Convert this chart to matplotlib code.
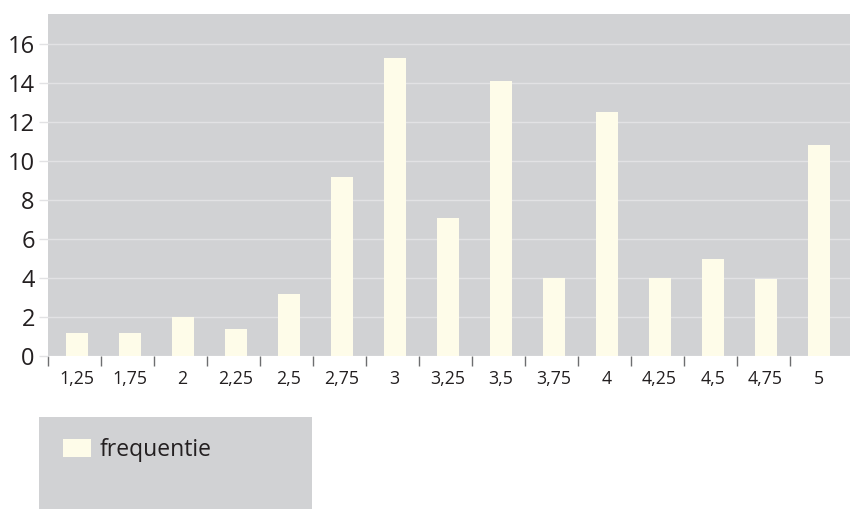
import matplotlib
matplotlib.use("Agg")
import matplotlib.pyplot as plt
from matplotlib.patches import Rectangle
import numpy as np

categories = ["1,25", "1,75", "2", "2,25", "2,5", "2,75", "3", "3,25",
              "3,5", "3,75", "4", "4,25", "4,5", "4,75", "5"]
frequentie = [1.2, 1.2, 2.0, 1.4, 3.2, 9.2, 15.3, 7.1, 14.1, 4.0, 12.5, 4.0, 5.0, 3.95, 10.8]
y_ticks = [0, 2, 4, 6, 8, 10, 12, 14, 16]
series_name = "frequentie"

BG = "#d1d2d4"
BAR = "#fefce9"
GRID = "#e2e2e4"
TEXT = "#231f20"
TICK = "#6d6e70"

plt.rcParams['font.family'] = ['Open Sans', 'DejaVu Sans']

W, H = 850, 509
fig = plt.figure(figsize=(W / 100, H / 100), dpi=100)
left_px, right_px, top_px, bottom_px = 48, 850, 14, 356
ax = fig.add_axes([left_px / W, 1 - bottom_px / H, (right_px - left_px) / W, (bottom_px - top_px) / H])
ax.set_facecolor(BG)

x = np.arange(len(categories))
xc = x + 0.04
bars = ax.bar(xc, frequentie, width=0.415, color=BAR, zorder=3, label=series_name)

ax.set_ylim(0, 17.54)
ax.set_xlim(-0.5, (right_px - left_px) / 53.0 - 0.5)

ax.set_yticks(y_ticks)
ax.set_yticklabels([str(v) for v in y_ticks])
ax.yaxis.grid(True, color=GRID, linewidth=1.0, zorder=1)
ax.tick_params(axis='y', length=6.5, width=1.0, color=GRID, pad=3, labelsize=17, labelcolor=TEXT)

# category boundaries as major ticks, labels at category centres as minor ticks
ax.set_xticks(x - 0.5)
ax.set_xticklabels([])
ax.set_xticks(xc, minor=True)
ax.set_xticklabels(categories, minor=True)
ax.tick_params(axis='x', which='major', length=7.5, width=1.0, color=TICK, direction='out')
ax.tick_params(axis='x', which='minor', length=0, pad=10, labelsize=12.8, labelcolor=TEXT)

for s in ax.spines.values():
    s.set_visible(False)

# legend box
fig.patches.append(Rectangle((39 / W, 0), (312 - 39) / W, (509 - 417) / H,
                             transform=fig.transFigure, facecolor=BG, edgecolor='none', zorder=0))
leg = fig.legend(handles=[bars], labels=[series_name], loc='center left',
                 bbox_to_anchor=(63 / W, 1 - 450 / H), frameon=False,
                 fontsize=16.5, handlelength=1.22, handleheight=0.88, handletextpad=0.4,
                 borderpad=0, borderaxespad=0, labelcolor=TEXT)

fig.savefig("out.png", dpi=100)
